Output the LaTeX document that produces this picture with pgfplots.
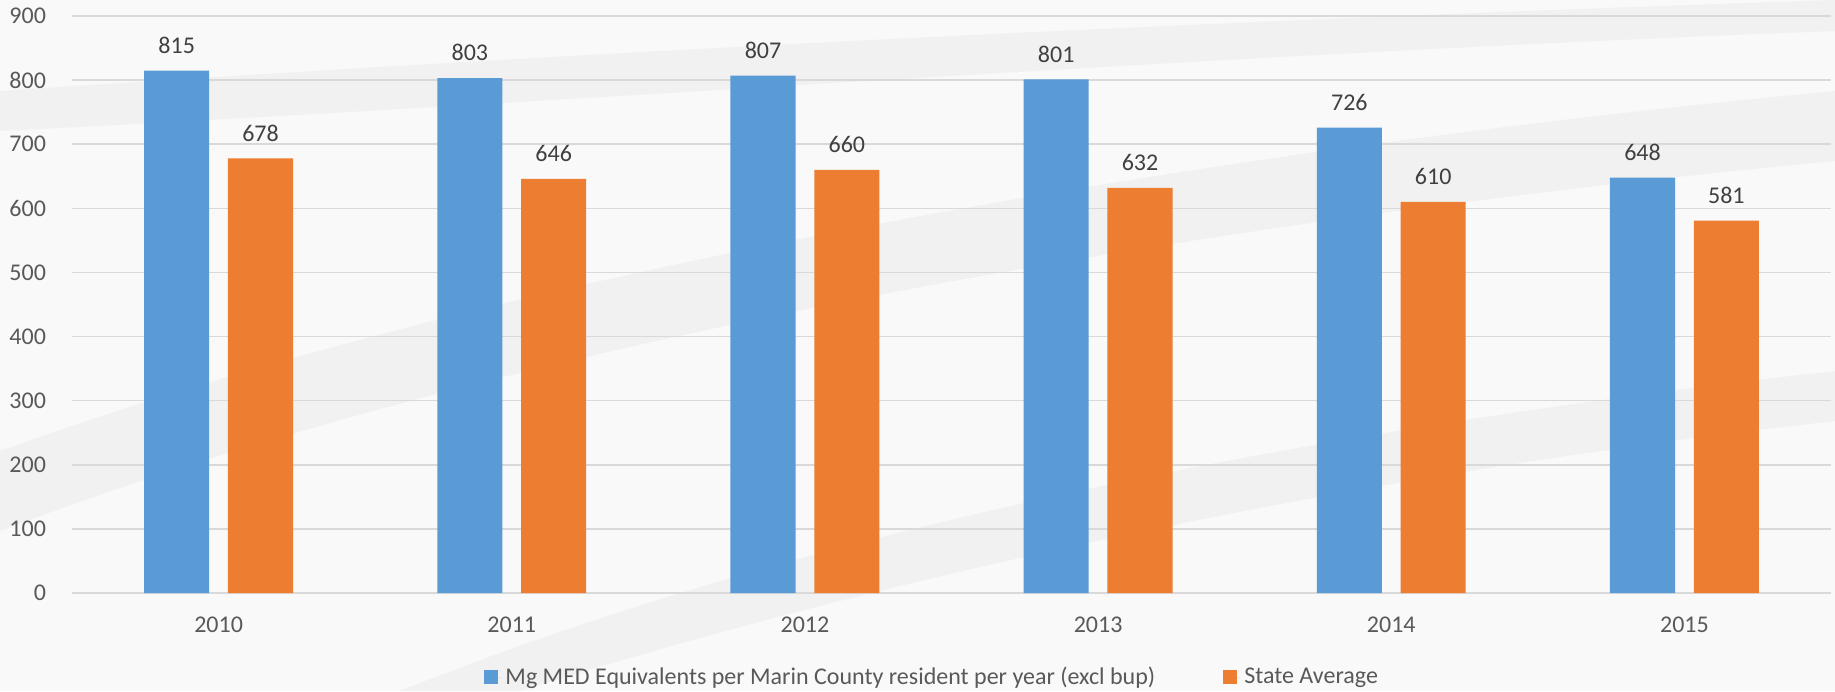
\documentclass[border=0pt]{standalone}
\usepackage{pgfplots}
\pgfplotsset{compat=1.18}
\usepackage{fontspec}
\setmainfont{Carlito}
\definecolor{cblue}{HTML}{5B9BD5}
\definecolor{corange}{HTML}{ED7D31}
\definecolor{gridc}{HTML}{D9D9D9}
\definecolor{txt}{HTML}{595959}
\definecolor{lbl}{HTML}{404040}
\definecolor{bg}{HTML}{F9F9F9}
\definecolor{band}{HTML}{F1F1F1}
\begin{document}
\begin{tikzpicture}
\useasboundingbox (0,0) rectangle (917.5pt,345.5pt);
\fill[bg] (0,0) rectangle (917.5pt,345.5pt);
% faint background swooshes
\begin{scope}
\clip (0,0) rectangle (917.5pt,345.5pt);
\fill[band] (0pt,300pt) .. controls (300pt,320pt) and (600pt,335pt) .. (917.5pt,345.5pt) -- (917.5pt,330pt) .. controls (600pt,318pt) and (300pt,295pt) .. (0pt,280pt) -- cycle;
\fill[band] (0pt,120pt) .. controls (250pt,210pt) and (600pt,270pt) .. (917.5pt,300pt) -- (917.5pt,265pt) .. controls (600pt,235pt) and (250pt,175pt) .. (0pt,80pt) -- cycle;
\fill[band] (200pt,0pt) .. controls (400pt,80pt) and (650pt,130pt) .. (917.5pt,160pt) -- (917.5pt,135pt) .. controls (650pt,105pt) and (420pt,50pt) .. (260pt,0pt) -- cycle;
\end{scope}
\begin{axis}[
  at={(36pt,49pt)}, anchor=south west,
  scale only axis,
  width=879.5pt, height=288.5pt,
  xmin=-0.5, xmax=5.5,
  ymin=0, ymax=900,
  ytick={0,100,...,900},
  xtick={0,1,2,3,4,5},
  xticklabels={2010,2011,2012,2013,2014,2015},
  major tick length=0pt,
  axis line style={draw=none},
  xmajorgrids=false,
  ymajorgrids=true,
  major grid style={draw=gridc, line width=0.8pt},
  tick label style={font=\fontsize{12}{14}\selectfont, text=txt},
  /pgf/number format/assume math mode=true,
  yticklabel style={xshift=-9.5pt},
  xticklabel style={yshift=-8.5pt},
  ybar,
  bar width=0.222,
  nodes near coords,
  nodes near coords style={font=\fontsize{12}{14}\selectfont, text=lbl, anchor=south, yshift=5pt},
  legend style={at={(0.4896,-0.1456)}, anchor=center, draw=none, fill=none,
    legend columns=2, font=\fontsize{12}{14}\selectfont, text=txt,
    /tikz/every even column/.append style={column sep=32pt}},
  legend image code/.code={\fill[#1] (0pt,-3.5pt) rectangle (7pt,3.5pt); \path (0pt,0pt) -- (8.5pt,0pt);},
]
\addplot[fill=cblue, draw=none, bar shift=-0.143] coordinates {(0,815) (1,803) (2,807) (3,801) (4,726) (5,648)};
\addplot[fill=corange, draw=none, bar shift=0.143] coordinates {(0,678) (1,646) (2,660) (3,632) (4,610) (5,581)};
\legend{Mg MED Equivalents per Marin County resident per year (excl bup), State Average}
\end{axis}
\end{tikzpicture}
\end{document}
